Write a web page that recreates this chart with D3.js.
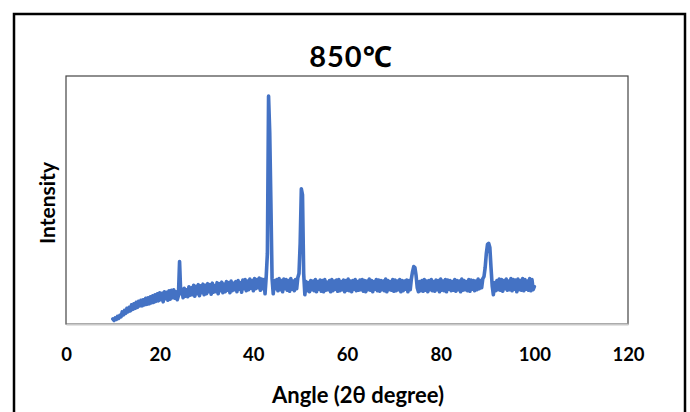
<!DOCTYPE html>
<html>
<head>
<meta charset="utf-8">
<script src="https://cdn.jsdelivr.net/npm/d3@7"></script>
<style>
  html, body { margin: 0; padding: 0; background: #fff; }
  svg { display: block; }
  text { font-family: Lato, "Noto Sans", "Noto Sans CJK SC", sans-serif; font-weight: bold; fill: #000; }
</style>
</head>
<body>
<div id="chart"></div>
<script>
// ---- data ----
const title = "850\u2103";
const xLabel = "Angle (2\u03B8 degree)";
const yLabel = "Intensity";
const xTicks = [0, 20, 40, 60, 80, 100, 120];
const xDomain = [0, 120];
const yDomain = [0, 2460];
// scan sampled every 0.25° from 10° to 100°
const angleStart = 10;
const angleStep = 0.25;
const intensity = [
  50, 35, 60, 45,        // 10
  75, 55, 85, 70,        // 11
  120, 90, 135, 105,     // 12
  155, 120, 165, 130,    // 13
  190, 145, 200, 155,    // 14
  215, 165, 225, 180,    // 15
  235, 180, 240, 190,    // 16
  255, 195, 260, 200,    // 17
  270, 210, 280, 215,    // 18
  290, 225, 300, 230,    // 19
  310, 240, 305, 220,    // 20
  320, 250, 315, 235,    // 21
  330, 245, 335, 260,    // 22
  340, 255, 320, 240,    // 23
  280, 620, 300, 345,    // 24
  260, 355, 275, 340,    // 25
  270, 370, 285, 360,    // 26
  290, 385, 275, 375,    // 27
  300, 390, 280, 380,    // 28
  310, 395, 290, 385,    // 29
  300, 400, 320, 390,    // 30
  295, 405, 315, 380,    // 31
  320, 410, 300, 400,    // 32
  330, 415, 310, 395,    // 33
  320, 420, 335, 410,    // 34
  310, 425, 330, 405,    // 35
  340, 420, 320, 430,    // 36
  345, 410, 315, 435,    // 37
  350, 440, 330, 425,    // 38
  340, 445, 355, 430,    // 39
  330, 450, 350, 440,    // 40
  360, 455, 335, 445,    // 41
  350, 440, 300, 470,    // 42
  700, 2260, 1900, 1200, // 43
  450, 300, 430, 350,    // 44
  440, 330, 450, 340,    // 45
  430, 320, 445, 350,    // 46
  440, 335, 430, 325,    // 47
  450, 345, 425, 330,    // 48
  440, 350, 460, 500,    // 49
  800, 1340, 1280, 500,  // 50
  290, 420, 330, 410,    // 51
  320, 430, 340, 425,    // 52
  330, 440, 320, 420,    // 53
  345, 435, 325, 430,    // 54
  320, 440, 335, 415,    // 55
  340, 430, 320, 440,    // 56
  330, 425, 345, 435,    // 57
  325, 440, 330, 420,    // 58
  340, 435, 320, 430,    // 59
  335, 445, 330, 425,    // 60
  320, 430, 345, 440,    // 61
  330, 420, 335, 435,    // 62
  340, 440, 325, 430,    // 63
  320, 425, 340, 445,    // 64
  335, 430, 320, 420,    // 65
  345, 440, 330, 435,    // 66
  325, 430, 340, 425,    // 67
  330, 445, 320, 430,    // 68
  340, 420, 335, 440,    // 69
  325, 435, 330, 425,    // 70
  340, 440, 320, 430,    // 71
  330, 425, 345, 435,    // 72
  320, 430, 340, 450,    // 73
  520, 570, 560, 480,    // 74
  360, 320, 420, 330,    // 75
  430, 325, 440, 335,    // 76
  425, 320, 430, 340,    // 77
  440, 330, 420, 325,    // 78
  435, 340, 430, 320,    // 79
  445, 335, 425, 330,    // 80
  440, 320, 435, 345,    // 81
  430, 330, 420, 335,    // 82
  440, 325, 430, 340,    // 83
  425, 320, 445, 335,    // 84
  430, 340, 420, 330,    // 85
  440, 325, 435, 345,    // 86
  430, 330, 425, 340,    // 87
  445, 350, 430, 360,    // 88
  450, 470, 560, 700,    // 89
  790, 800, 760, 560,    // 90
  380, 290, 410, 330,    // 91
  430, 340, 445, 335,    // 92
  440, 325, 430, 350,    // 93
  445, 335, 425, 340,    // 94
  450, 330, 440, 345,    // 95
  435, 320, 445, 340,    // 96
  430, 335, 450, 330,    // 97
  440, 345, 425, 335,    // 98
  450, 330, 440, 340,    // 99
  370                    // 100
];
const pattern = intensity.map((v, i) => [angleStart + i * angleStep, v]);

// ---- layout ----
const W = 690, H = 412;
const plot = { left: 66, right: 628, top: 76, bottom: 324 };

const svg = d3.select("#chart").append("svg")
  .attr("width", W).attr("height", H);

svg.append("rect").attr("width", W).attr("height", H).attr("fill", "#fff");

// outer chart border (extends beyond the bottom of the picture)
svg.append("rect")
  .attr("x", 14).attr("y", 14)
  .attr("width", 671).attr("height", 430)
  .attr("fill", "none").attr("stroke", "#000").attr("stroke-width", 2.5);

const x = d3.scaleLinear().domain(xDomain).range([plot.left, plot.right]);
const y = d3.scaleLinear().domain(yDomain).range([plot.bottom, plot.top]);

// plot area border
svg.append("rect")
  .attr("x", plot.left).attr("y", plot.top)
  .attr("width", plot.right - plot.left).attr("height", plot.bottom - plot.top)
  .attr("fill", "none").attr("stroke", "#444").attr("stroke-width", 1.2);

// x axis
const xAxis = d3.axisBottom(x).tickValues(xTicks).tickSize(0).tickPadding(24);
const gx = svg.append("g")
  .attr("transform", `translate(0,${plot.bottom})`)
  .call(xAxis);
gx.select(".domain").attr("stroke", "#c8c8c8").attr("stroke-width", 2);
gx.selectAll(".tick text")
  .style("font-size", "18.5px").style("font-weight", "bold")
  .style("font-family", 'Lato, "Noto Sans", sans-serif')
  .attr("fill", "#000");

// series line
const line = d3.line().x(d => x(d[0])).y(d => y(d[1]));
svg.append("path")
  .datum(pattern)
  .attr("d", line)
  .attr("fill", "none")
  .attr("stroke", "#4472C4")
  .attr("stroke-width", 3.6)
  .attr("stroke-linejoin", "round")
  .attr("stroke-linecap", "round");

// title
svg.append("text")
  .attr("x", 351).attr("y", 67)
  .attr("text-anchor", "middle")
  .style("font-size", "29px")
  .style("letter-spacing", "1px")
  .text(title);

// x axis label
svg.append("text")
  .attr("x", 358).attr("y", 403)
  .attr("text-anchor", "middle")
  .style("font-size", "22px")
  .text(xLabel);

// y axis label
svg.append("text")
  .attr("transform", `translate(55,${203}) rotate(-90)`)
  .attr("text-anchor", "middle")
  .style("font-size", "21px")
  .text(yLabel);
</script>
</body>
</html>
